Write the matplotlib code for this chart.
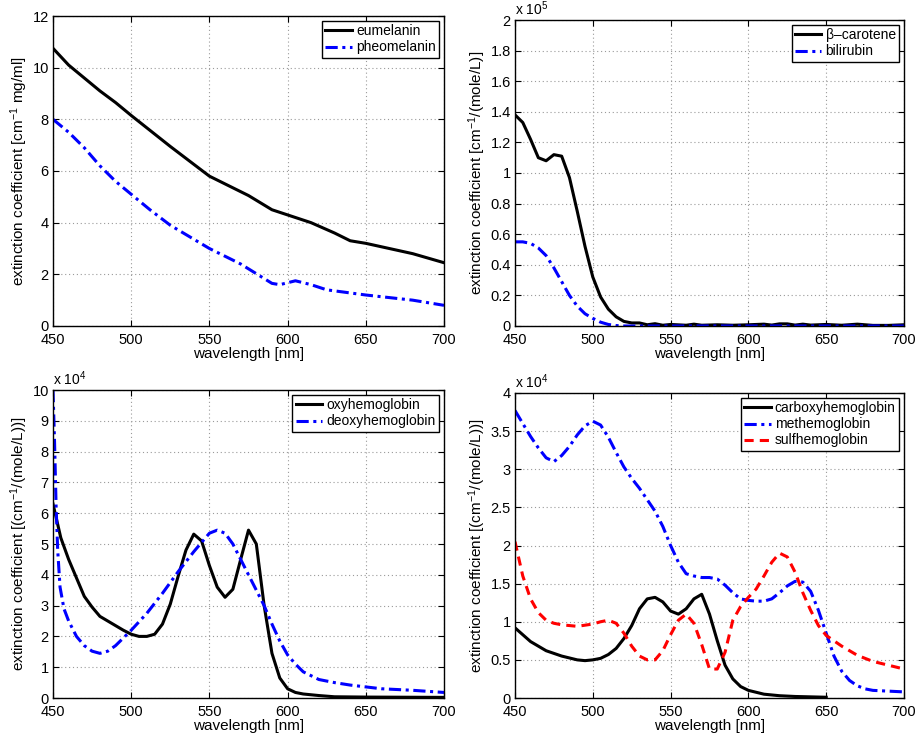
import matplotlib
matplotlib.use("Agg")
import matplotlib.pyplot as plt
import numpy as np

plt.rcParams['font.family'] = ['Liberation Sans', 'DejaVu Sans']
plt.rcParams['mathtext.fontset'] = 'custom'
plt.rcParams['mathtext.rm'] = 'Liberation Sans'
plt.rcParams['mathtext.it'] = 'Liberation Sans'
plt.rcParams['mathtext.default'] = 'regular'

# ---------------- data ----------------
# Panel 1: melanins (cm^-1 mg/ml)
wl_mel = [450, 460, 470, 480, 490, 500, 525, 550, 575, 590, 600, 615, 630, 640, 650, 665, 680, 700]
eumelanin = [10.75, 10.1, 9.6, 9.1, 8.65, 8.15, 6.95, 5.8, 5.05, 4.5, 4.3, 4.0, 3.6, 3.3, 3.2, 3.0, 2.8, 2.45]
wl_pheo = [450, 460, 470, 480, 490, 500, 512, 525, 550, 570, 590, 595, 605, 615, 625, 650, 680, 700]
pheomelanin = [8.0, 7.5, 6.9, 6.2, 5.6, 5.1, 4.5, 3.9, 3.0, 2.4, 1.65, 1.6, 1.75, 1.6, 1.4, 1.2, 1.0, 0.8]

# Panel 2: beta-carotene & bilirubin (x 1e5)
wl_car = [450, 455, 460, 465, 470, 475, 480, 485, 490, 495, 500, 505, 510, 515, 520, 525, 530,
          535, 540, 545, 550, 560, 565, 570, 580, 590, 600, 610, 615, 620, 625, 630, 635, 640,
          650, 660, 670, 680, 690, 700]
beta_carotene = [1.38, 1.33, 1.22, 1.10, 1.08, 1.12, 1.11, 0.97, 0.75, 0.52, 0.32, 0.19, 0.11, 0.06,
                 0.03, 0.02, 0.02, 0.008, 0.015, 0.005, 0.01, 0.005, 0.012, 0.005, 0.008, 0.005, 0.008,
                 0.012, 0.006, 0.014, 0.014, 0.006, 0.012, 0.006, 0.01, 0.005, 0.012, 0.004, 0.004, 0.008]
wl_bil = [450, 455, 460, 465, 470, 475, 480, 485, 490, 495, 500, 505, 510, 515, 520, 550, 600, 650, 700]
bilirubin = [0.55, 0.55, 0.54, 0.51, 0.46, 0.38, 0.29, 0.20, 0.13, 0.08, 0.05, 0.025, 0.01, 0.003, 0.0,
             0.0, 0.0, 0.0, 0.0]

# Panel 3: oxy/deoxy hemoglobin (x 1e4)
wl_oxy = [450, 455, 460, 465, 470, 475, 480, 485, 490, 495, 500, 505, 510, 515, 520, 525, 530, 535,
          540, 545, 550, 555, 560, 565, 570, 575, 580, 585, 590, 595, 600, 605, 610, 620, 630, 650, 700]
oxyhemoglobin = [6.3, 5.2, 4.5, 3.9, 3.3, 2.95, 2.65, 2.5, 2.35, 2.2, 2.07, 2.0, 2.0, 2.07, 2.4, 3.05,
                 3.95, 4.8, 5.32, 5.1, 4.3, 3.6, 3.27, 3.53, 4.5, 5.45, 5.0, 3.0, 1.45, 0.65, 0.3, 0.18,
                 0.13, 0.08, 0.04, 0.03, 0.02]
wl_deoxy = [450, 451, 452, 453, 454.5, 457, 460, 465, 470, 475, 480, 485, 490, 495, 500, 510, 520,
            530, 540, 550, 555, 560, 565, 570, 575, 580, 585, 590, 595, 600, 605, 610, 620, 630,
            640, 650, 660, 680, 700]
deoxyhemoglobin = [10.0, 8.3, 6.2, 4.8, 3.6, 2.9, 2.5, 2.0, 1.7, 1.52, 1.45, 1.52, 1.7, 1.95, 2.2,
                   2.75, 3.4, 4.1, 4.75, 5.35, 5.45, 5.35, 5.0, 4.5, 4.0, 3.5, 3.0, 2.4, 1.85, 1.4,
                   1.1, 0.85, 0.6, 0.5, 0.42, 0.36, 0.3, 0.25, 0.18]

# Panel 4: carboxy/met/sulf hemoglobin (x 1e4)
wl_carboxy = [450, 460, 470, 480, 490, 495, 500, 505, 510, 515, 520, 525, 530, 535, 540, 545, 550,
              555, 560, 565, 570, 575, 580, 585, 590, 595, 600, 610, 620, 630, 650]
carboxyhemoglobin = [0.92, 0.74, 0.62, 0.55, 0.5, 0.49, 0.5, 0.52, 0.57, 0.65, 0.78, 0.95, 1.17, 1.3,
                     1.32, 1.26, 1.14, 1.1, 1.17, 1.3, 1.36, 1.1, 0.75, 0.43, 0.25, 0.15, 0.1, 0.05,
                     0.03, 0.02, 0.01]
wl_met = [450, 455, 460, 465, 470, 475, 480, 485, 490, 495, 500, 505, 510, 515, 520, 525, 530, 535,
          540, 545, 550, 555, 560, 565, 570, 575, 580, 585, 590, 595, 600, 605, 610, 615, 620, 625,
          630, 635, 640, 645, 650, 655, 660, 665, 670, 675, 680, 690, 700]
methemoglobin = [3.77, 3.6, 3.43, 3.28, 3.15, 3.1, 3.18, 3.3, 3.45, 3.57, 3.63, 3.58, 3.42, 3.22,
                 3.03, 2.88, 2.75, 2.6, 2.45, 2.25, 2.0, 1.78, 1.63, 1.6, 1.58, 1.58, 1.56, 1.48,
                 1.38, 1.3, 1.28, 1.27, 1.27, 1.3, 1.38, 1.47, 1.53, 1.52, 1.4, 1.15, 0.85, 0.55,
                 0.35, 0.23, 0.16, 0.12, 0.1, 0.09, 0.08]
wl_sulf = [450, 455, 460, 465, 470, 475, 480, 490, 500, 505, 510, 515, 520, 525, 530, 535, 540, 545,
           550, 555, 560, 565, 570, 575, 580, 585, 590, 595, 600, 605, 610, 615, 620, 625, 630, 635,
           640, 645, 650, 660, 670, 680, 690, 700]
sulfhemoglobin = [2.05, 1.6, 1.3, 1.12, 1.02, 0.98, 0.96, 0.94, 0.97, 1.0, 1.02, 0.98, 0.85, 0.68,
                  0.55, 0.5, 0.5, 0.62, 0.83, 1.02, 1.1, 0.98, 0.7, 0.38, 0.38, 0.6, 1.02, 1.2, 1.32,
                  1.43, 1.6, 1.78, 1.9, 1.85, 1.65, 1.38, 1.15, 0.95, 0.82, 0.68, 0.56, 0.48, 0.43, 0.38]

xlabel = 'wavelength [nm]'
ylabel1 = 'extinction coefficient [cm$^{-1}$ mg/ml]'
ylabel2 = 'extinction coefficient [cm$^{-1}$/(mole/L)]'
ylabel3 = 'extinction coefficient [(cm$^{-1}$/(mole/L))]'

# ---------------- figure ----------------
fig = plt.figure(figsize=(9.16, 7.4), dpi=100)
W, H = 916, 740

def make_ax(l, r, t, b):
    return fig.add_axes([l / W, 1 - b / H, (r - l) / W, (b - t) / H])

ax1 = make_ax(53, 444, 16, 326)
ax2 = make_ax(515, 904, 20, 326)
ax3 = make_ax(53, 444, 390, 698)
ax4 = make_ax(515, 904, 393, 698)

lw = 2.2
blue_dd = (0, (4, 1.5, 1, 1.5))
ax1.plot(wl_mel, eumelanin, color='black', lw=lw, label='eumelanin')
ax1.plot(wl_pheo, pheomelanin, color='blue', lw=lw, ls=blue_dd, label='pheomelanin')
ax1.set_ylim(0, 12)
ax1.set_yticks(np.arange(0, 13, 2))
ax1.set_ylabel(ylabel1)

ax2.plot(wl_car, beta_carotene, color='black', lw=lw, label='β–carotene')
ax2.plot(wl_bil, bilirubin, color='blue', lw=lw, ls=blue_dd, label='bilirubin')
ax2.set_ylim(0, 2)
ax2.set_yticks(np.arange(0, 2.01, 0.2))
ax2.set_yticklabels(['0', '0.2', '0.4', '0.6', '0.8', '1', '1.2', '1.4', '1.6', '1.8', '2'])
ax2.set_ylabel(ylabel2)
ax2.text(0.0, 1.005, 'x 10$^5$', transform=ax2.transAxes, fontsize=10, ha='left', va='bottom')

ax3.plot(wl_oxy, oxyhemoglobin, color='black', lw=lw, label='oxyhemoglobin')
ax3.plot(wl_deoxy, deoxyhemoglobin, color='blue', lw=lw, ls=blue_dd, label='deoxyhemoglobin')
ax3.set_ylim(0, 10)
ax3.set_yticks(np.arange(0, 11, 1))
ax3.set_ylabel(ylabel3)
ax3.text(0.0, 1.005, 'x 10$^4$', transform=ax3.transAxes, fontsize=10, ha='left', va='bottom')

ax4.plot(wl_carboxy, carboxyhemoglobin, color='black', lw=lw, label='carboxyhemoglobin')
ax4.plot(wl_met, methemoglobin, color='blue', lw=lw, ls=blue_dd, label='methemoglobin')
ax4.plot(wl_sulf, sulfhemoglobin, color='red', lw=lw, ls=(0, (3, 2)), label='sulfhemoglobin')
ax4.set_ylim(0, 4)
ax4.set_yticks(np.arange(0, 4.01, 0.5))
ax4.set_yticklabels(['0', '0.5', '1', '1.5', '2', '2.5', '3', '3.5', '4'])
ax4.set_ylabel(ylabel3)
ax4.text(0.0, 1.005, 'x 10$^4$', transform=ax4.transAxes, fontsize=10, ha='left', va='bottom')

for ax in (ax1, ax2, ax3, ax4):
    ax.set_xlim(450, 700)
    ax.set_xticks(np.arange(450, 701, 50))
    ax.set_xlabel(xlabel, fontsize=11, labelpad=0)
    ax.yaxis.label.set_fontsize(11)
    ax.yaxis.labelpad = 2
    ax.grid(True, color='#9a9a9a', ls=(0, (1, 2.5)), lw=0.8)
    ax.tick_params(direction='in', top=True, right=True, labelsize=10.5, length=4)
    ax.tick_params(axis='x', pad=5)
    ax.tick_params(axis='y', pad=3)
    for s in ax.spines.values():
        s.set_linewidth(1.0)
    leg = ax.legend(loc='upper right', fontsize=10, frameon=True, fancybox=False,
                    handlelength=1.9, handletextpad=0.3, borderpad=0.25, labelspacing=0.15,
                    borderaxespad=0.35)
    leg.get_frame().set_edgecolor('black')
    leg.get_frame().set_linewidth(1.0)
    leg.get_frame().set_alpha(1)

fig.savefig('out.png', dpi=100)
